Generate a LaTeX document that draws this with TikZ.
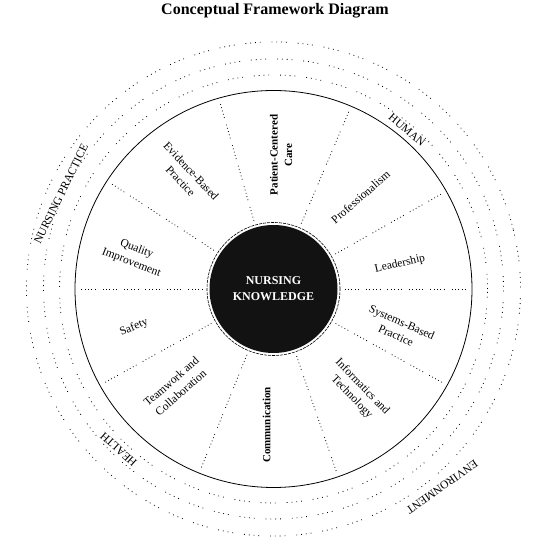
\documentclass[tikz,border=0pt]{standalone}
\usepackage{fontspec}
\setmainfont{Liberation Serif}
\begin{document}
\begin{tikzpicture}[x=1pt,y=1pt,
  lbl/.style={font=\fontsize{11.5}{14.5}\selectfont, align=center, inner sep=0pt},
  blbl/.style={font=\fontsize{11}{14.5}\bfseries\selectfont, align=center, inner sep=0pt},
  olbl/.style={font=\fontsize{11.5}{12.5}\selectfont, inner sep=0pt},
  divider/.style={line width=0.8pt, dash pattern=on 0.8pt off 2.6pt on 0.8pt off 2.6pt on 0.8pt off 2.6pt on 0.8pt off 2.6pt on 0.8pt off 7pt},
  ring/.style={line width=0.8pt, dash pattern=on 0.8pt off 4pt on 0.8pt off 4pt on 0.8pt off 4pt on 0.8pt off 11pt}]
\useasboundingbox (0,0) rectangle (549,549);
\coordinate (C) at (273.5,260);
% title
\node[font=\fontsize{16}{18}\bfseries\selectfont] (title) at (275,538) {Conceptual Framework Diagram};
% outer dotted rings
\draw[ring] (C) circle[radius=214];
\draw[ring, rotate around={7:(C)}] (C) circle[radius=230];
\draw[ring, rotate around={14:(C)}] (C) circle[radius=247];
% main circle
\draw[line width=0.8pt] (C) circle[radius=198.5];
% dividers
\foreach \a in {0,29.5,67,106,147,180,209,248,289,331}{
  \draw[divider, shift={(C)}] (\a:71) -- (\a:196);
}
% centre
\fill[fill={rgb,255:red,18;green,18;blue,18}] (C) circle[radius=64];
\draw[line width=0.6pt, dash pattern=on 3pt off 1pt] (C) circle[radius=66.5];
\node[font=\fontsize{12}{16}\bfseries\selectfont, text=white, align=center] (core) at (C) {NURSING\\KNOWLEDGE};
% segment labels
\node[blbl, rotate=90] (pcc) at (281,394) {Patient-Centered\\Care};
\node[lbl, rotate=41] (prof) at (360.6,352) {Professionalism};
\node[lbl, rotate=13] (lead) at (400,285) {Leadership};
\node[lbl, rotate=-24] (sbp) at (399,220) {Systems-Based\\Practice};
\node[lbl, rotate=-46] (info) at (357,157) {Informatics and\\Technology};
\node[blbl, rotate=90] (comm) at (266.5,124) {Communication};
\node[lbl, rotate=41] (team) at (176,162) {Teamwork and\\Collaboration};
\node[lbl, rotate=23] (safe) at (134,221.5) {Safety};
\node[lbl, rotate=-21] (qi) at (134,293) {Quality\\Improvement};
\node[lbl, rotate=-47] (ebp) at (186,373) {Evidence-Based\\Practice};
% outer labels
\node[olbl, rotate=-40] (human) at (407,419) {HUMAN};
\node[olbl, rotate=64] (np) at (61,355) {NURSING PRACTICE};
\node[olbl, rotate=138] (health) at (118.5,99.5) {HEALTH};
\node[olbl, rotate=215] (env) at (442,62) {ENVIRONMENT};
\end{tikzpicture}
\end{document}
